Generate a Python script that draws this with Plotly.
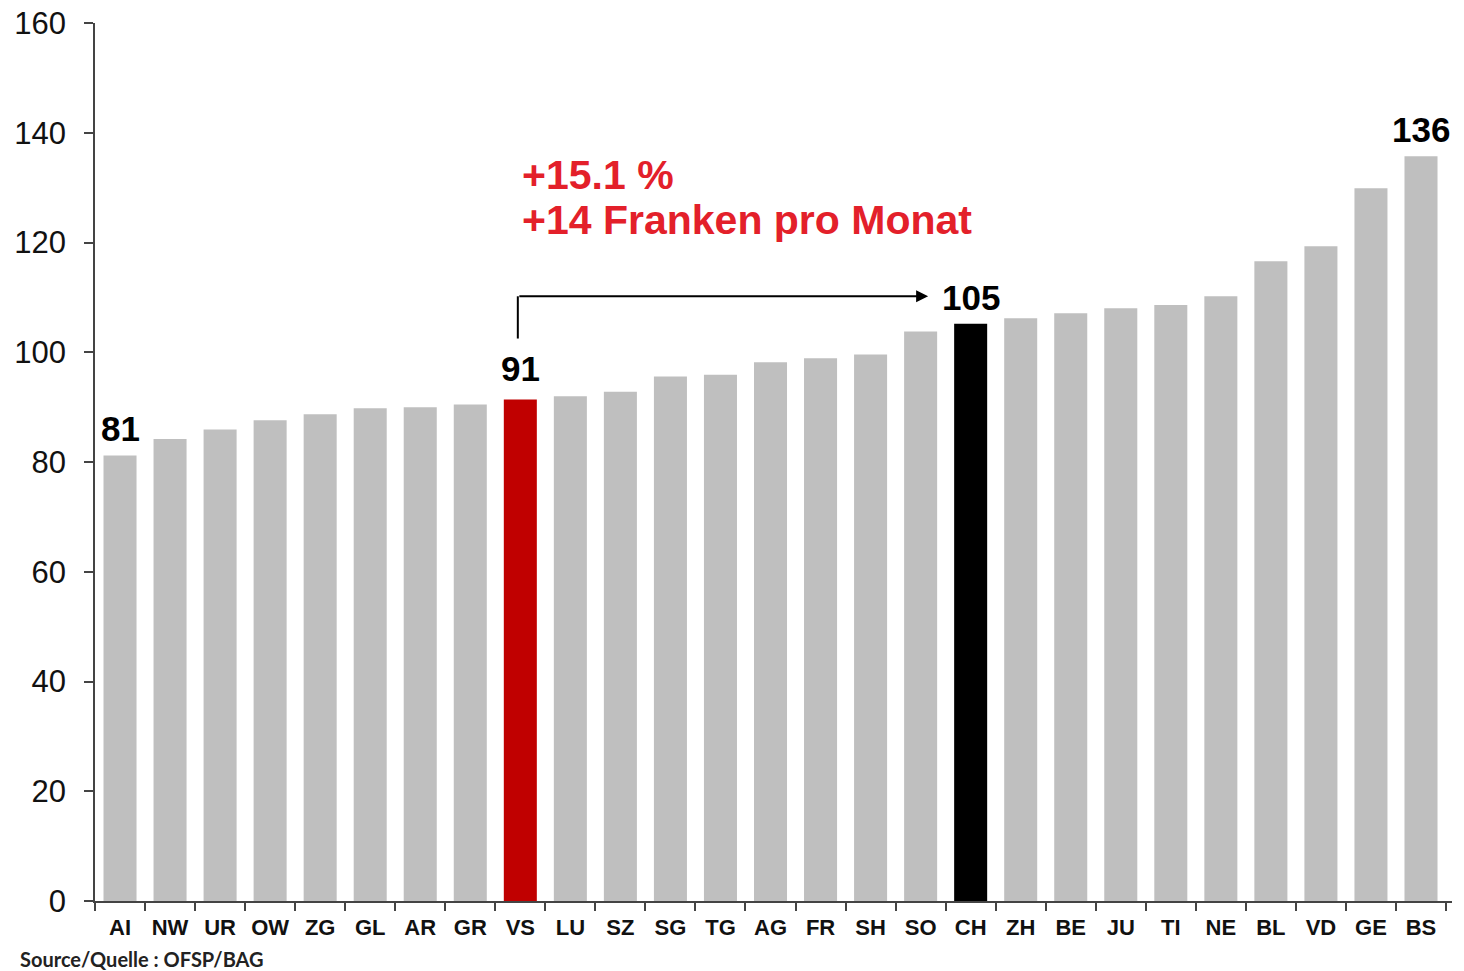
import plotly.graph_objects as go

cantons = ["AI", "NW", "UR", "OW", "ZG", "GL", "AR", "GR", "VS", "LU", "SZ", "SG", "TG", "AG",
           "FR", "SH", "SO", "CH", "ZH", "BE", "JU", "TI", "NE", "BL", "VD", "GE", "BS"]
values = [81.2, 84.2, 85.9, 87.6, 88.7, 89.8, 90.0, 90.5, 91.4, 92.0, 92.8, 95.6, 95.9, 98.2,
          98.9, 99.6, 103.8, 105.2, 106.2, 107.1, 108.0, 108.6, 110.2, 116.6, 119.3, 129.9, 135.7]
highlight = {"VS": "#c00000", "CH": "#000000"}
labelled = {"AI": "81", "VS": "91", "CH": "105", "BS": "136"}
y_ticks = [0, 20, 40, 60, 80, 100, 120, 140, 160]
red_lines = ["+15.1 %", "+14 Franken pro Monat"]

colors = [highlight.get(c, "#bfbfbf") for c in cantons]

fig = go.Figure(go.Bar(x=cantons, y=values, marker=dict(color=colors, line=dict(width=0)),
                       hoverinfo="x+y"))

annotations = []
for c, t in labelled.items():
    i = cantons.index(c)
    annotations.append(dict(x=c, y=values[i], text="<b>" + t + "</b>", showarrow=False,
                            yanchor="bottom", yshift=5 if c != "VS" else 9,
                            font=dict(family="Liberation Sans, Arial", size=35, color="#000")))

# red annotation text (two lines, reference pixel centres 175 and 220)
for line, yc in zip(red_lines, [175, 220]):
    annotations.append(dict(xref="paper", yref="paper", x=(520 - 95) / 1357, y=1 - (yc - 23) / 878,
                            xanchor="left", yanchor="middle", align="left", showarrow=False,
                            text="<b>" + line + "</b>",
                            font=dict(family="Liberation Sans, Arial", size=41, color="#e3202a")))

# source
annotations.append(dict(xref="paper", yref="paper", x=-77 / 1357, y=-(959 - 901) / 878,
                        xanchor="left", yanchor="middle", showarrow=False,
                        text="<b>Source/Quelle : OFSP/BAG</b>",
                        font=dict(family="Lato, Open Sans", size=20, color="#222")))

vs_i = cantons.index("VS")
ch_i = cantons.index("CH")
# arrow from VS to CH
annotations.append(dict(x=ch_i - 0.85, y=110.2, ax=vs_i - 0.05, ay=110.2, xref="x", yref="y",
                        axref="x", ayref="y", showarrow=True, arrowhead=2, arrowsize=1.2,
                        arrowwidth=2, arrowcolor="#000", text=""))

shapes = [dict(type="line", xref="x", yref="y", x0=vs_i - 0.05, x1=vs_i - 0.05, y0=102.5, y1=110.2,
               line=dict(color="#000", width=2))]

fig.update_layout(
    width=1448, height=963,
    margin=dict(l=87, r=4, t=15, b=70),
    plot_bgcolor="white", paper_bgcolor="white",
    bargap=0.34, showlegend=False,
    annotations=annotations, shapes=shapes,
    xaxis=dict(showline=True, linecolor="#444", linewidth=1.5, ticks="outside", tickson="boundaries",
               ticklen=8, tickcolor="#444", tickwidth=1.5, tickangle=0, automargin=False,
               ticklabelstandoff=6,
               tickfont=dict(family="Liberation Sans, Arial", size=22, color="#111"),
               tickprefix="<b>", ticksuffix="</b>", showgrid=False),
    yaxis=dict(range=[0, 160], tickvals=y_ticks, showline=True, linecolor="#444", linewidth=1.5,
               ticks="outside", ticklen=9, tickcolor="#444", tickwidth=1.5, showgrid=False, zeroline=False,
               automargin=False, ticklabelstandoff=12, ticklabeloverflow="allow",
               tickfont=dict(family="Liberation Sans, Arial", size=31, color="#111")),
)

fig.write_html("out.html")
